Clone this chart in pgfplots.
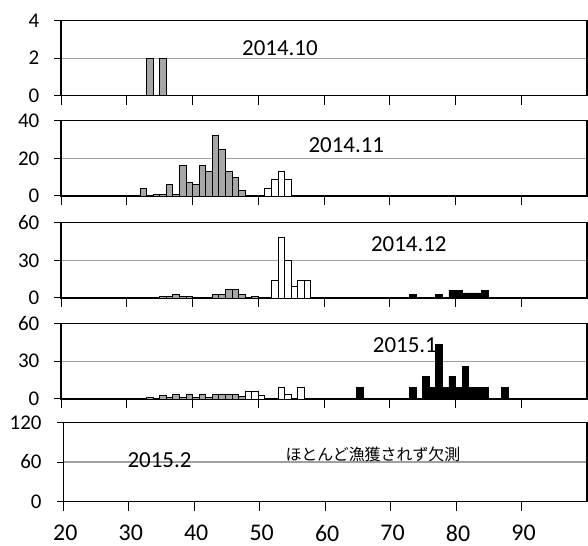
\documentclass[border=0pt]{standalone}
\usepackage{pgfplots}
\pgfplotsset{compat=1.18}
\usepackage{fontspec}
\setmainfont{Carlito}
\newfontfamily\cjk{Noto Sans CJK JP}

\definecolor{bargray}{RGB}{166,166,166}
\definecolor{gridgray}{RGB}{160,160,160}

\pgfplotsset{
  panel/.style={
    scale only axis,
    width=526bp, height=75bp,
    xmin=20, xmax=100, ymin=0,
    xtick={20,30,...,90},
    xticklabels={},
    tick align=outside,
    xtick pos=bottom, ytick pos=left,
    xtick style={black, line width=1bp, /pgfplots/major tick length=9bp},
    ytick style={black, line width=1bp, /pgfplots/major tick length=6.5bp},
    ymajorgrids,
    grid style={gridgray, line width=1.2bp},
    axis line style={black, line width=1.3bp},
    /pgf/number format/assume math mode=true,
    yticklabel style={font=\fontsize{21}{21}\selectfont, xshift=-14bp},
    xticklabel style={font=\fontsize{24}{24}\selectfont, inner sep=0pt,
      yshift=-19bp, xshift=2bp},
    anchor=south west,
  },
  gbar/.style={ybar, bar width=1, bar shift=0pt, fill=bargray, draw=black, line width=0.8bp},
  wbar/.style={ybar, bar width=1, bar shift=0pt, fill=white, draw=black, line width=0.8bp},
  kbar/.style={ybar, bar width=1, bar shift=0pt, fill=black, draw=black, line width=0.8bp},
}
\tikzset{lbl/.style={font=\fontsize{23}{23}\selectfont, inner sep=0pt}}

\begin{document}
\begin{tikzpicture}
\useasboundingbox (0,0) rectangle (588bp,546bp);

% 2014.10
\begin{axis}[panel, at={(61bp,450.3bp)}, ymax=4, ytick={0,2,4}]
  \addplot[gbar] coordinates {(33.5,2) (35.5,2)};
  \node[lbl] at (axis cs:53.3,2.55) {2014.10};
\end{axis}

% 2014.11
\begin{axis}[panel, at={(61bp,350bp)}, height=75.3bp, ymax=40, ytick={0,20,40}]
  \addplot[gbar] coordinates {
    (32.5,4) (34.5,1) (35.5,1) (36.5,6) (37.5,1) (38.5,16) (39.5,7)
    (40.5,6) (41.5,16) (42.5,13) (43.5,32) (44.5,25) (45.5,13)
    (46.5,10) (47.5,3)};
  \addplot[wbar] coordinates {(51.5,4) (52.5,9) (53.5,13) (54.5,9)};
  \node[lbl] at (axis cs:63.4,27) {2014.11};
\end{axis}

% 2014.12
\begin{axis}[panel, at={(61bp,248bp)}, height=75.3bp, ymax=60, ytick={0,30,60}]
  \addplot[gbar] coordinates {
    (35.5,1) (36.5,1) (37.5,3) (38.5,1) (39.5,1)
    (43.5,3) (44.5,3) (45.5,7) (46.5,7) (47.5,3) (49.5,1)};
  \addplot[wbar] coordinates {
    (52.5,14) (53.5,48) (54.5,30) (55.5,9) (56.5,14) (57.5,14)};
  \addplot[kbar] coordinates {
    (73.5,3) (77.5,3) (79.5,6) (80.5,6) (81.5,4) (82.5,4) (83.5,4) (84.5,6)};
  \node[lbl] at (axis cs:72.9,42.8) {2014.12};
\end{axis}

% 2015.1
\begin{axis}[panel, at={(61bp,147bp)}, height=75.5bp, ymax=60, ytick={0,30,60}]
  \node[lbl] at (axis cs:72.3,42.7) {2015.1};
  \addplot[gbar] coordinates {
    (33.5,1) (35.5,3) (36.5,1) (37.5,4) (38.5,1) (39.5,4) (40.5,1)
    (41.5,4) (42.5,1) (43.5,4) (44.5,4) (45.5,4) (46.5,4) (47.5,2)};
  \addplot[wbar] coordinates {
    (48.5,6) (49.5,6) (50.5,3) (53.5,9) (54.5,4) (56.5,9)};
  \addplot[kbar] coordinates {
    (65.5,9) (73.5,9) (75.5,18) (76.5,9) (77.5,43) (78.5,9) (79.5,18)
    (80.5,9) (81.5,26) (82.5,9) (83.5,9) (84.5,9) (87.5,9)};
\end{axis}

% 2015.2
\begin{axis}[panel, at={(63.3bp,44.3bp)}, width=523.7bp, height=79.4bp,
  ymax=120, ytick={0,60,120},
  xticklabels={20,30,40,50,60,70,80,90}]
  \node[lbl] at (axis cs:34.7,63) {2015.2};
  \node[inner sep=0pt] at (axis cs:67.3,71.8)
    {\cjk\fontsize{16}{16}\selectfont ほとんど漁獲されず欠測};
\end{axis}
\end{tikzpicture}
\end{document}
